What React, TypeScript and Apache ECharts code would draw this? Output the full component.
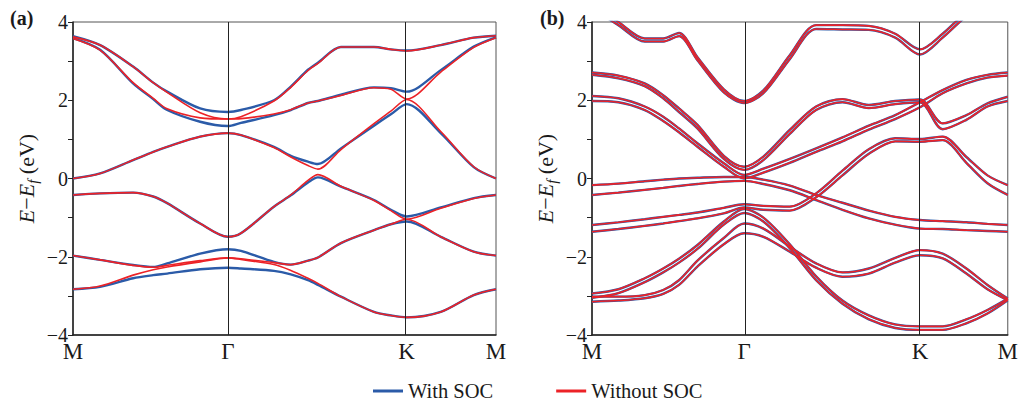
import React, { useEffect, useRef } from "react";
import * as echarts from "echarts";

// ---- symmetry points along M–Γ–K–M path ----
const symTicks = [0, 0.577, 1.244, 1.577];
const symLabels = ["M", "Γ", "K", "M"];
const yTicks = [-4, -2, 0, 2, 4];

// ---- panel (a): k-grid and bands (blue = with SOC, red = without SOC) ----
const kA = [0, 0.101, 0.224, 0.299, 0.351, 0.474, 0.577, 0.626, 0.749, 0.812, 0.876, 0.913, 0.999, 1.122, 1.185, 1.244, 1.371, 1.494, 1.577];

const a6Blue = [3.64, 3.41, 2.86, 2.45, 2.22, 1.79, 1.7, 1.75, 2.0, 2.35, 2.78, 2.96, 3.36, 3.36, 3.3, 3.27, 3.41, 3.6, 3.65];
const a6Red = [3.62, 3.41, 2.86, 2.45, 2.2, 1.68, 1.52, 1.58, 1.98, 2.33, 2.76, 2.94, 3.36, 3.36, 3.3, 3.26, 3.41, 3.6, 3.65];
const a5Blue = [3.59, 3.29, 2.43, 2.03, 1.75, 1.45, 1.34, 1.42, 1.62, 1.75, 1.93, 1.98, 2.14, 2.33, 2.31, 2.22, 2.77, 3.37, 3.61];
const a5Red = [3.58, 3.28, 2.45, 2.05, 1.78, 1.55, 1.52, 1.53, 1.65, 1.76, 1.93, 1.98, 2.12, 2.32, 2.28, 2.03, 2.72, 3.35, 3.6];
const a4Blue = [0.0, 0.13, 0.47, 0.68, 0.81, 1.07, 1.16, 1.11, 0.81, 0.58, 0.43, 0.37, 0.77, 1.35, 1.64, 1.9, 1.16, 0.29, 0.0];
const a4Red = [0.0, 0.13, 0.47, 0.68, 0.81, 1.07, 1.16, 1.11, 0.79, 0.55, 0.33, 0.24, 0.74, 1.4, 1.72, 2.02, 1.2, 0.3, 0.0];
const a3Blue = [-0.42, -0.38, -0.36, -0.46, -0.63, -1.15, -1.49, -1.4, -0.72, -0.43, -0.1, 0.03, -0.21, -0.55, -0.8, -0.97, -0.74, -0.5, -0.42];
const a3Red = [-0.42, -0.38, -0.36, -0.46, -0.63, -1.15, -1.49, -1.4, -0.72, -0.42, -0.05, 0.1, -0.2, -0.56, -0.82, -1.04, -0.76, -0.51, -0.42];
const a2Blue = [-1.97, -2.08, -2.21, -2.26, -2.17, -1.92, -1.81, -1.85, -2.13, -2.2, -2.1, -2.02, -1.65, -1.32, -1.17, -1.1, -1.49, -1.87, -1.97];
const a2Red = [-1.97, -2.08, -2.22, -2.27, -2.22, -2.1, -2.03, -2.05, -2.15, -2.2, -2.1, -2.02, -1.65, -1.32, -1.17, -1.04, -1.49, -1.87, -1.97];
const a1Blue = [-2.83, -2.77, -2.55, -2.47, -2.43, -2.32, -2.28, -2.3, -2.36, -2.45, -2.6, -2.72, -3.02, -3.41, -3.5, -3.55, -3.41, -2.98, -2.83];
const a1Red = [-2.83, -2.75, -2.47, -2.33, -2.26, -2.13, -2.03, -2.07, -2.2, -2.35, -2.55, -2.68, -3.02, -3.41, -3.5, -3.55, -3.41, -2.98, -2.83];

// ---- panel (b): k-grid and bands (doublets) ----
const kB = [0, 0.1, 0.2, 0.27, 0.33, 0.4, 0.5, 0.577, 0.65, 0.75, 0.85, 0.95, 1.05, 1.15, 1.244, 1.33, 1.42, 1.5, 1.577];

const b1Up = [4.45, 4.0, 3.58, 3.58, 3.72, 3.1, 2.28, 1.98, 2.25, 3.15, 3.92, 3.92, 3.9, 3.7, 3.3, 3.7, 4.25, 4.6, 4.9];
const b1Lo = [4.35, 3.92, 3.5, 3.5, 3.64, 3.02, 2.2, 1.93, 2.18, 3.05, 3.82, 3.81, 3.8, 3.6, 3.17, 3.6, 4.15, 4.5, 4.8];
const b2Up = [2.71, 2.63, 2.43, 2.13, 1.79, 1.37, 0.58, 0.3, 0.56, 1.24, 1.84, 2.03, 1.88, 1.98, 2.02, 1.41, 1.62, 1.92, 2.09];
const b2Lo = [2.65, 2.56, 2.36, 2.05, 1.7, 1.28, 0.5, 0.22, 0.47, 1.14, 1.75, 1.95, 1.8, 1.9, 1.95, 1.26, 1.5, 1.84, 1.98];
const b3Up = [2.11, 2.05, 1.84, 1.58, 1.28, 0.9, 0.39, 0.09, 0.25, 0.5, 0.77, 1.05, 1.35, 1.62, 1.95, 2.26, 2.52, 2.65, 2.71];
const b3Lo = [1.98, 1.95, 1.75, 1.47, 1.18, 0.81, 0.3, 0.0, 0.15, 0.4, 0.68, 0.95, 1.25, 1.52, 1.82, 2.18, 2.43, 2.58, 2.63];
const b4Up = [-0.17, -0.13, -0.07, -0.03, 0.0, 0.02, 0.04, 0.04, -0.03, -0.18, -0.42, -0.62, -0.82, -0.98, -1.06, -1.09, -1.12, -1.16, -1.19];
const b4Lo = [-0.42, -0.36, -0.29, -0.24, -0.19, -0.14, -0.08, -0.06, -0.14, -0.3, -0.55, -0.8, -1.02, -1.18, -1.28, -1.29, -1.32, -1.34, -1.36];
const b5Up = [-1.19, -1.12, -1.04, -0.98, -0.93, -0.87, -0.75, -0.66, -0.7, -0.72, -0.38, 0.2, 0.75, 1.03, 1.01, 1.07, 0.55, 0.08, -0.17];
const b5Lo = [-1.36, -1.29, -1.21, -1.15, -1.09, -1.02, -0.89, -0.74, -0.8, -0.82, -0.48, 0.08, 0.63, 0.95, 0.94, 0.98, 0.4, -0.12, -0.42];
const b6Up = [-2.94, -2.83, -2.55, -2.3, -2.05, -1.7, -1.1, -0.78, -1.0, -1.68, -2.5, -3.12, -3.5, -3.73, -3.78, -3.78, -3.6, -3.36, -3.07];
const b6Lo = [-3.05, -2.93, -2.65, -2.4, -2.15, -1.8, -1.18, -0.88, -1.1, -1.78, -2.6, -3.2, -3.6, -3.82, -3.87, -3.87, -3.7, -3.45, -3.11];
const b7Up = [-3.02, -3.02, -2.98, -2.85, -2.6, -2.1, -1.52, -1.15, -1.28, -1.74, -2.17, -2.4, -2.3, -2.03, -1.83, -1.92, -2.3, -2.72, -3.07];
const b7Lo = [-3.15, -3.12, -3.06, -2.95, -2.72, -2.25, -1.68, -1.4, -1.49, -1.87, -2.28, -2.51, -2.43, -2.15, -1.96, -2.04, -2.43, -2.83, -3.11];

const BLUE = "#2b5ba8";
const RED = "#ec2227";
const FONT = "'Liberation Serif', 'Times New Roman', serif";

function line(name: string, color: string, width: number, z: number, idx: number, k: number[], e: number[]) {
  return {
    name,
    type: "line",
    xAxisIndex: idx,
    yAxisIndex: idx,
    data: k.map((x, i) => [x, e[i]]),
    showSymbol: false,
    symbol: "none",
    smooth: 0.3,
    clip: true,
    silent: true,
    z,
    lineStyle: { color, width },
    itemStyle: { color },
  };
}

export default function App() {
  const ref = useRef<HTMLDivElement>(null);
  useEffect(() => {
    if (!ref.current) return;
    const chart = echarts.init(ref.current, undefined, { renderer: "svg" });

    const aPairs: [number[], number[]][] = [
      [a6Blue, a6Red], [a5Blue, a5Red], [a4Blue, a4Red],
      [a3Blue, a3Red], [a2Blue, a2Red], [a1Blue, a1Red],
    ];
    const bLines = [b1Up, b1Lo, b2Up, b2Lo, b3Up, b3Lo, b4Up, b4Lo, b5Up, b5Lo, b6Up, b6Lo, b7Up, b7Lo];

    const series: any[] = [];
    [0, 1].forEach((idx) => {
      series.push({
        type: "line",
        xAxisIndex: idx,
        yAxisIndex: idx,
        data: [],
        z: 1,
        silent: true,
        markLine: {
          silent: true,
          symbol: ["none", "none"],
          label: { show: false },
          lineStyle: { color: "#222", width: 1, type: "solid" },
          data: [{ xAxis: symTicks[1] }, { xAxis: symTicks[2] }],
        },
      });
    });
    aPairs.forEach(([b]) => series.push(line("With SOC", BLUE, 2.4, 2, 0, kA, b)));
    bLines.forEach((e) => series.push(line("With SOC", BLUE, 2.4, 2, 1, kB, e)));
    aPairs.forEach(([, r]) => series.push(line("Without SOC", RED, 1.6, 3, 0, kA, r)));
    bLines.forEach((e) => series.push(line("Without SOC", RED, 1.6, 3, 1, kB, e)));

    const xAxisBase = (idx: number) => ({
      type: "value",
      gridIndex: idx,
      min: 0,
      max: symTicks[3],
      axisLine: { show: true, onZero: false, lineStyle: { color: "#222", width: 1.5 } },
      axisTick: { show: false },
      splitLine: { show: false },
      axisLabel: {
        customValues: symTicks,
        showMinLabel: true,
        showMaxLabel: true,
        fontFamily: FONT,
        fontSize: 23,
        color: "#1a1a1a",
        margin: 5,
        formatter: (v: number) => {
          const i = symTicks.findIndex((t) => Math.abs(t - v) < 1e-6);
          return i >= 0 ? symLabels[i] : "";
        },
      },
    });
    const yAxisBase = (idx: number) => ({
      type: "value",
      gridIndex: idx,
      min: -4,
      max: 4,
      interval: 1,
      axisLine: { show: true, onZero: false, lineStyle: { color: "#222", width: 1.5 } },
      axisTick: { show: true, inside: false, length: 5, lineStyle: { color: "#222", width: 1 } },
      splitLine: { show: false },
      axisLabel: {
        fontFamily: FONT,
        fontSize: 20,
        color: "#1a1a1a",
        margin: 5,
        formatter: (v: number) => (yTicks.indexOf(v) >= 0 ? String(v).replace("-", "−") : ""),
      },
      name: "{i|E}−{i|E}{s|f} (eV)",
      nameLocation: "middle",
      nameRotate: 90,
      nameGap: 33,
      nameTextStyle: {
        fontFamily: FONT,
        fontSize: 22,
        color: "#1a1a1a",
        lineHeight: 28,
        rich: {
          i: { fontFamily: FONT, fontStyle: "italic", fontSize: 22, color: "#1a1a1a", lineHeight: 28 },
          s: { fontFamily: FONT, fontStyle: "italic", fontSize: 15, color: "#1a1a1a", verticalAlign: "bottom", lineHeight: 28 },
        },
      },
    });

    chart.setOption({
      animation: false,
      backgroundColor: "#ffffff",
      grid: [
        { left: 73, top: 22, width: 423, height: 313, show: true, borderColor: "#555", borderWidth: 1, backgroundColor: "transparent" },
        { left: 592, top: 22, width: 421, height: 313, show: true, borderColor: "#555", borderWidth: 1, backgroundColor: "transparent" },
      ],
      xAxis: [xAxisBase(0), xAxisBase(1)],
      yAxis: [yAxisBase(0), yAxisBase(1)],
      legend: {
        data: ["With SOC", "Without SOC"],
        left: 373,
        top: 379,
        padding: 0,
        icon: "rect",
        itemWidth: 30,
        itemHeight: 3,
        itemGap: 63,
        selectedMode: false,
        textStyle: { fontFamily: FONT, fontSize: 20.5, lineHeight: 24, color: "#1a1a1a" },
      },
      graphic: [
        { type: "text", left: 10, top: 8, style: { text: "(a)", fontFamily: FONT, fontSize: 20, fontWeight: "bold", fill: "#1a1a1a" } },
        { type: "text", left: 540, top: 8, style: { text: "(b)", fontFamily: FONT, fontSize: 20, fontWeight: "bold", fill: "#1a1a1a" } },
      ],
      series,
    });
    return () => chart.dispose();
  }, []);
  return <div ref={ref} style={{ position: "fixed", left: 0, top: 0, width: 1021, height: 403 }} />;
}
